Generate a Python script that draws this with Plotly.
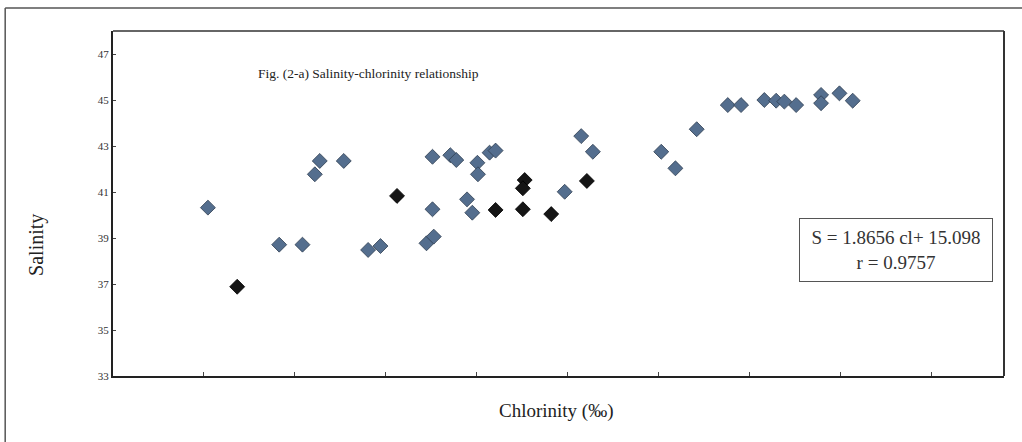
import plotly.graph_objects as go

# Data
blue_chlorinity = [11.522, 11.914, 12.042, 12.137, 12.110, 12.269, 12.403, 12.471,
                   12.757, 12.855, 12.888, 13.071, 13.104, 13.004, 13.007, 12.757,
                   12.724, 12.764, 12.947, 12.976, 13.484, 13.575, 13.639, 14.015,
                   14.093, 14.210, 14.381, 14.454, 14.582, 14.647, 14.692, 14.757,
                   14.894, 14.894, 14.995, 15.068]
blue_salinity = [40.32, 38.71, 38.71, 42.35, 41.77, 42.35, 38.48, 38.65,
                 42.53, 42.60, 42.39, 42.71, 42.80, 42.27, 41.77, 40.25,
                 38.77, 39.06, 40.68, 40.10, 41.01, 43.43, 42.75, 42.75,
                 42.03, 43.73, 44.78, 44.78, 45.00, 44.97, 44.93, 44.78,
                 45.22, 44.86, 45.29, 44.97]
black_chlorinity = [11.683, 12.562, 13.104, 13.264, 13.254, 13.254, 13.410, 13.606]
black_salinity = [36.88, 40.83, 40.22, 41.52, 41.16, 40.25, 40.04, 41.48]

y_ticks = [33, 35, 37, 39, 41, 43, 45, 47]
x_ticks = [11.5, 12, 12.5, 13, 13.5, 14, 14.5, 15, 15.5]

title_text = "Fig. (2-a) Salinity-chlorinity relationship"
eq_text = "S = 1.8656 cl+ 15.098<br>r = 0.9757"
x_title = "Chlorinity (‰)"
y_title = "Salinity"

SERIF = "Liberation Serif, Times New Roman, serif"

fig = go.Figure()
fig.add_trace(go.Scatter(
    x=blue_chlorinity, y=blue_salinity, mode="markers",
    marker=dict(symbol="diamond", size=11.5, color="#546e8e",
                line=dict(width=0.8, color="#2e3d50")),
    showlegend=False))
fig.add_trace(go.Scatter(
    x=black_chlorinity, y=black_salinity, mode="markers",
    marker=dict(symbol="diamond", size=11.5, color="#151515",
                line=dict(width=0.8, color="#000000")),
    showlegend=False))

fig.update_layout(
    width=1022, height=442,
    margin=dict(l=113, r=18, t=31, b=66),
    paper_bgcolor="white", plot_bgcolor="white",
    font=dict(family=SERIF, color="#222"),
    xaxis=dict(range=[11, 15.9], tickvals=x_ticks, ticktext=[""] * len(x_ticks),
               ticks="inside", ticklen=4, tickcolor="#444", showgrid=False,
               zeroline=False, showline=True, linecolor="#222", linewidth=2),
    yaxis=dict(range=[33, 48], tickvals=y_ticks, ticks="inside", ticklen=3,
               tickcolor="#444", showgrid=False, zeroline=False, showline=True,
               linecolor="#222", linewidth=2,
               tickfont=dict(size=11, family=SERIF, color="#333")),
    shapes=[
        # top and right edges of plot area
        dict(type="line", xref="paper", yref="paper", x0=0, x1=1, y0=1, y1=1,
             line=dict(color="#666", width=2)),
        dict(type="line", xref="paper", yref="paper", x0=1, x1=1, y0=0, y1=1,
             line=dict(color="#333", width=2)),
        # outer frame
        dict(type="line", xref="paper", yref="paper", x0=-0.121, x1=1.03,
             y0=1.067, y1=1.067, line=dict(color="#555", width=1.5)),
        dict(type="line", xref="paper", yref="paper", x0=-0.121, x1=-0.121,
             y0=-0.2, y1=1.067, line=dict(color="#555", width=1.5)),
    ],
    annotations=[
        dict(text=title_text, xref="paper", yref="paper", x=0.1605, y=0.878,
             xanchor="left", yanchor="middle", showarrow=False,
             font=dict(size=13.5, family=SERIF, color="#222")),
        dict(text=eq_text, xref="paper", yref="paper", x=0.8788, y=0.3652,
             xanchor="center", yanchor="middle", showarrow=False, align="center",
             font=dict(size=19, family=SERIF, color="#333"),
             bordercolor="#555", borderwidth=1, borderpad=4,
             width=184, height=54, bgcolor="white"),
        dict(text=x_title, xref="paper", yref="paper", x=0.4983, y=-0.10,
             xanchor="center", yanchor="middle", showarrow=False,
             font=dict(size=19, family=SERIF, color="#222")),
        dict(text=y_title, xref="paper", yref="paper", x=-0.0853, y=0.38,
             xanchor="center", yanchor="middle", showarrow=False, textangle=-90,
             font=dict(size=20, family=SERIF, color="#222")),
    ],
)

fig.write_html("out.html",
               config={"displayModeBar": False},
               post_script="document.body.style.margin='0';"
                           "document.body.style.overflow='hidden';")
